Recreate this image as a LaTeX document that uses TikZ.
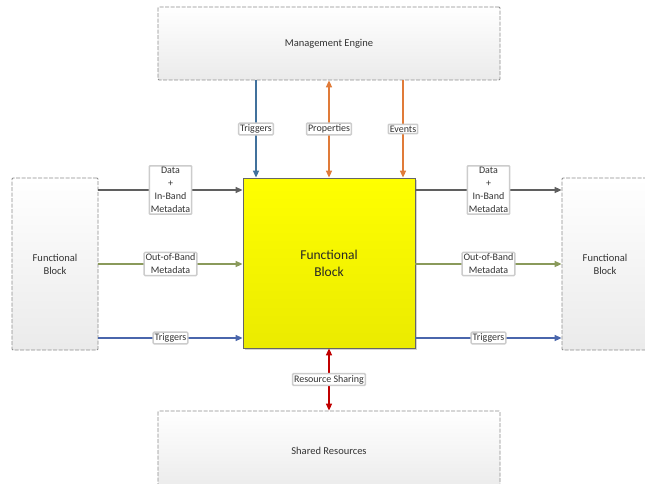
\documentclass[tikz,border=0pt]{standalone}
\usepackage{fontspec}
\setmainfont{Carlito}
\usetikzlibrary{arrows.meta,shadows}
\definecolor{cgray}{HTML}{5F5F5F}
\definecolor{colive}{HTML}{8A9A5B}
\definecolor{cblue}{HTML}{4A66AC}
\definecolor{ctblue}{HTML}{41719C}
\definecolor{corange}{HTML}{E07B39}
\definecolor{cred}{HTML}{C00000}
\definecolor{cborder}{HTML}{8C8C8C}
\tikzset{
  dbox/.style={draw=cborder, dash pattern=on 4pt off 1.5pt, line width=0.8pt,
    top color=white, bottom color=black!8, rounded corners=1pt,
    font=\fontsize{10.5}{13}\selectfont, text=black!80, align=center},
  fbox/.style={draw=black!60, line width=0.8pt, top color=yellow, bottom color=yellow!92!black,
    drop shadow={shadow xshift=1.5pt, shadow yshift=-1.5pt, opacity=0.35},
    font=\fontsize{13.5}{17}\selectfont, text=black!85, align=center},
  lab/.style={draw=black!20, fill=white, rounded corners=1pt, inner sep=1.5pt,
    font=\fontsize{10}{13}\selectfont, text=black!80, align=center},
  conn/.style={line width=1.5pt, -{Triangle[length=7pt,width=6pt]}},
  bconn/.style={line width=1.5pt, {Triangle[length=7pt,width=6pt]}-{Triangle[length=7pt,width=6pt]}}
}
\begin{document}
\begin{tikzpicture}[x=1pt,y=-1pt]
\clip (0,0) rectangle (645,484);
\fill[white] (0,0) rectangle (645,484);
\node[dbox, minimum width=342pt, minimum height=73pt] (me) at (329,43.5) {Management Engine};
\node[dbox, minimum width=342pt, minimum height=80pt] (sr) at (329,451) {Shared Resources};
\node[dbox, minimum width=86pt, minimum height=172pt] (lb) at (55,264) {Functional\\Block};
\node[dbox, minimum width=86pt, minimum height=172pt] (rb) at (605,264) {Functional\\Block};
\node[fbox, minimum width=172pt, minimum height=170pt] (fb) at (329,263) {Functional\\Block};
\coordinate (r1) at (0,190);
\coordinate (r2) at (0,264);
\coordinate (r3) at (0,338);
\coordinate (c1) at (256,0);
\coordinate (c2) at (329,0);
\coordinate (c3) at (403,0);
% left
\draw[conn, cgray] (lb.east |- r1) -- node[lab]{Data\\+\\In-Band\\Metadata} (fb.west |- r1);
\draw[conn, colive] (lb.east |- r2) -- node[lab]{Out-of-Band\\Metadata} (fb.west |- r2);
\draw[conn, cblue] (lb.east |- r3) -- node[lab]{Triggers} (fb.west |- r3);
% right
\draw[conn, cgray] (fb.east |- r1) -- node[lab]{Data\\+\\In-Band\\Metadata} (rb.west |- r1);
\draw[conn, colive] (fb.east |- r2) -- node[lab]{Out-of-Band\\Metadata} (rb.west |- r2);
\draw[conn, cblue] (fb.east |- r3) -- node[lab]{Triggers} (rb.west |- r3);
% top
\draw[conn, ctblue] (me.south -| c1) -- node[lab]{Triggers} (fb.north -| c1);
\draw[bconn, corange] (me.south -| c2) -- node[lab]{Properties} (fb.north -| c2);
\draw[conn, corange] (me.south -| c3) -- node[lab]{Events} (fb.north -| c3);
% bottom
\draw[bconn, cred] (fb.south -| c2) -- node[lab]{Resource Sharing} (sr.north -| c2);
\end{tikzpicture}
\end{document}
